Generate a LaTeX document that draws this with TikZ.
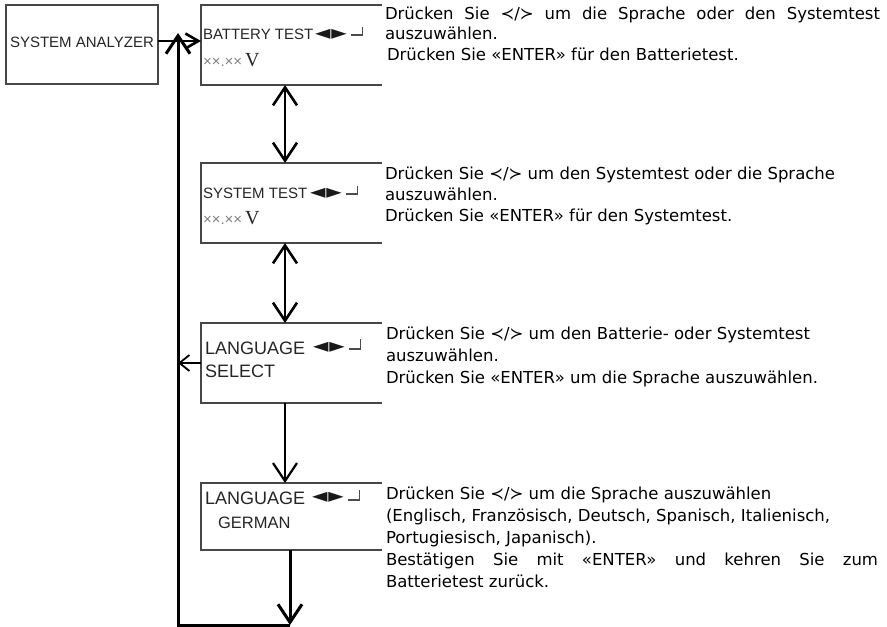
\documentclass[tikz,border=0pt]{standalone}
\usepackage{fontspec}
\setmainfont{DejaVu Sans}
\newfontfamily\lcdsans{Liberation Sans}
\newfontfamily\lcdserif{Liberation Serif}
\newfontfamily\symfont{DejaVu Sans}
\usetikzlibrary{arrows.meta}

\begin{document}
\begin{tikzpicture}[x=1pt, y=-1pt,
  every node/.style={inner sep=0pt, outer sep=0pt},
  panel/.style={minimum width=181pt, anchor=north west},
  frame/.style={draw=black!72, line width=1.4pt},
  lcd/.style={font=\lcdsans\fontsize{15}{15}\selectfont, text=black!85, anchor=base west},
  lcdbig/.style={lcd, font=\lcdsans\fontsize{18}{18}\selectfont},
  lcdmid/.style={lcd, font=\lcdsans\fontsize{16.5}{16.5}\selectfont},
  keys/.style={font=\symfont\fontsize{20}{20}\selectfont, text=black!90, anchor=base west},
  hook/.style={draw=black!70, line width=1.1pt},
  volt/.style={font=\lcdsans\fontsize{15}{15}\selectfont, text=black!50, anchor=base west},
  voltunit/.style={font=\lcdserif\fontsize{20}{20}\selectfont, text=black!85, anchor=base west},
  note/.style={font=\fontsize{16.5}{20}\selectfont, anchor=base west},
  barb/.tip={Straight Barb[length=18pt,width=24pt]},
  flow/.style={draw, line width=2.6pt, -barb},
  both/.style={draw, line width=2.6pt, barb-barb},
]
\fill[white] (0,0) rectangle (887,627);
\useasboundingbox (0,0) rectangle (887,627);

% reference columns for the vertical connectors
\coordinate (col) at (285,0);
\coordinate (col2) at (290,0);

% start screen
\node[minimum width=152pt, minimum height=79pt, anchor=north west] (sa) at (6,5) {};
\draw[frame] (sa.north west) rectangle (sa.south east);
\node[lcd] (saT) at (10,47) {SYSTEM ANALYZER};

% display panels, open on the right
\node[panel, minimum height=80pt] (b1) at (201,5) {};
\node[panel, minimum height=80pt] (b2) at (201,163) {};
\node[panel, minimum height=80pt] (b3) at (201,323) {};
\node[panel, minimum height=67pt] (b4) at (201,483) {};
\foreach \b in {b1,b2,b3,b4}
  \draw[frame] (\b.north east) -- (\b.north west) -- (\b.south west) -- (\b.south east);

% panel 1
\node[lcd] (b1t) at (203,39) {BATTERY TEST};
\node[keys] (b1k) at (315,39) {◄\kern1pt►};
\draw[hook] (b1k.base east) ++(4,-4) -- ++(12,0) -- ++(0,-8);
\node[volt] (b1v) at (203,66) {××.××};
\node[voltunit] (b1u) at ([xshift=3pt]b1v.base east) {V};

% panel 2
\node[lcd] (b2t) at (203,198) {SYSTEM TEST};
\node[keys] (b2k) at (310,198) {◄\kern1pt►};
\draw[hook] (b2k.base east) ++(4,-4) -- ++(12,0) -- ++(0,-8);
\node[volt] (b2v) at (203,224) {××.××};
\node[voltunit] (b2u) at ([xshift=3pt]b2v.base east) {V};

% panel 3
\node[lcdbig] (b3t) at (205,354) {LANGUAGE};
\node[keys] (b3k) at (313,352) {◄\kern1pt►};
\draw[hook] (b3k.base east) ++(4,-3) -- ++(12,0) -- ++(0,-10);
\node[lcdbig] (b3s) at (205,377) {SELECT};

% panel 4
\node[lcdbig] (b4t) at (205,504) {LANGUAGE};
\node[keys] (b4k) at (312,502) {◄\kern1pt►};
\draw[hook] (b4k.base east) ++(4,-2) -- ++(12,0) -- ++(0,-10);
\node[lcdmid] (b4s) at (218,528) {GERMAN};

% descriptions
\node[note] (n1a) at (385,19) {\makebox[495pt][s]{Drücken Sie ≺/≻ um die Sprache oder den Systemtest}};
\node[note] (n1b) at (385,39.5) {auszuwählen.};
\node[note] (n1c) at (387,60) {Drücken Sie «ENTER» für den Batterietest.};

\node[note] (n2a) at (385,179) {Drücken Sie ≺/≻ um den Systemtest oder die Sprache};
\node[note] (n2b) at (385,200) {auszuwählen.};
\node[note] (n2c) at (385,221) {Drücken Sie «ENTER» für den Systemtest.};

\node[note] (n3a) at (386,339) {Drücken Sie ≺/≻ um den Batterie- oder Systemtest};
\node[note] (n3b) at (386,361) {auszuwählen.};
\node[note] (n3c) at (386,383) {Drücken Sie «ENTER» um die Sprache auszuwählen.};

\node[note] (n4a) at (386,499) {Drücken Sie ≺/≻ um die Sprache auszuwählen};
\node[note] (n4b) at (386,521) {(Englisch, Französisch, Deutsch, Spanisch, Italienisch,};
\node[note] (n4c) at (386,543) {Portugiesisch, Japanisch).};
\node[note] (n4d) at (386,565) {\makebox[492pt][s]{Bestätigen Sie mit «ENTER» und kehren Sie zum}};
\node[note] (n4e) at (386,587) {Batterietest zurück.};

% connectors
\coordinate (loopTop) at (178,33);
\coordinate (loopL) at (178,625);
\coordinate (loopR) at (290,625);
\coordinate (jn) at (178,41);

\draw[flow, line width=3pt] (loopR) -- (loopL) -- (loopTop);
\draw[draw, line width=2.6pt, -{Straight Barb[length=13pt,width=15pt]}] (sa.east |- jn) -- (b1.west |- jn);
\draw[both] (b1.south -| col) -- (b2.north -| col);
\draw[both] (b2.south -| col) -- (b3.north -| col);
\draw[flow, line width=2.2pt] (b3.south -| col) -- (b4.north -| col);
\draw[flow, line width=3pt] (b4.south -| col2) -- (loopR);
\draw[line width=1.8pt, -{Straight Barb[length=10pt,width=16pt]}] (b3.west) -- (b3.west -| loopL);
\end{tikzpicture}
\end{document}
